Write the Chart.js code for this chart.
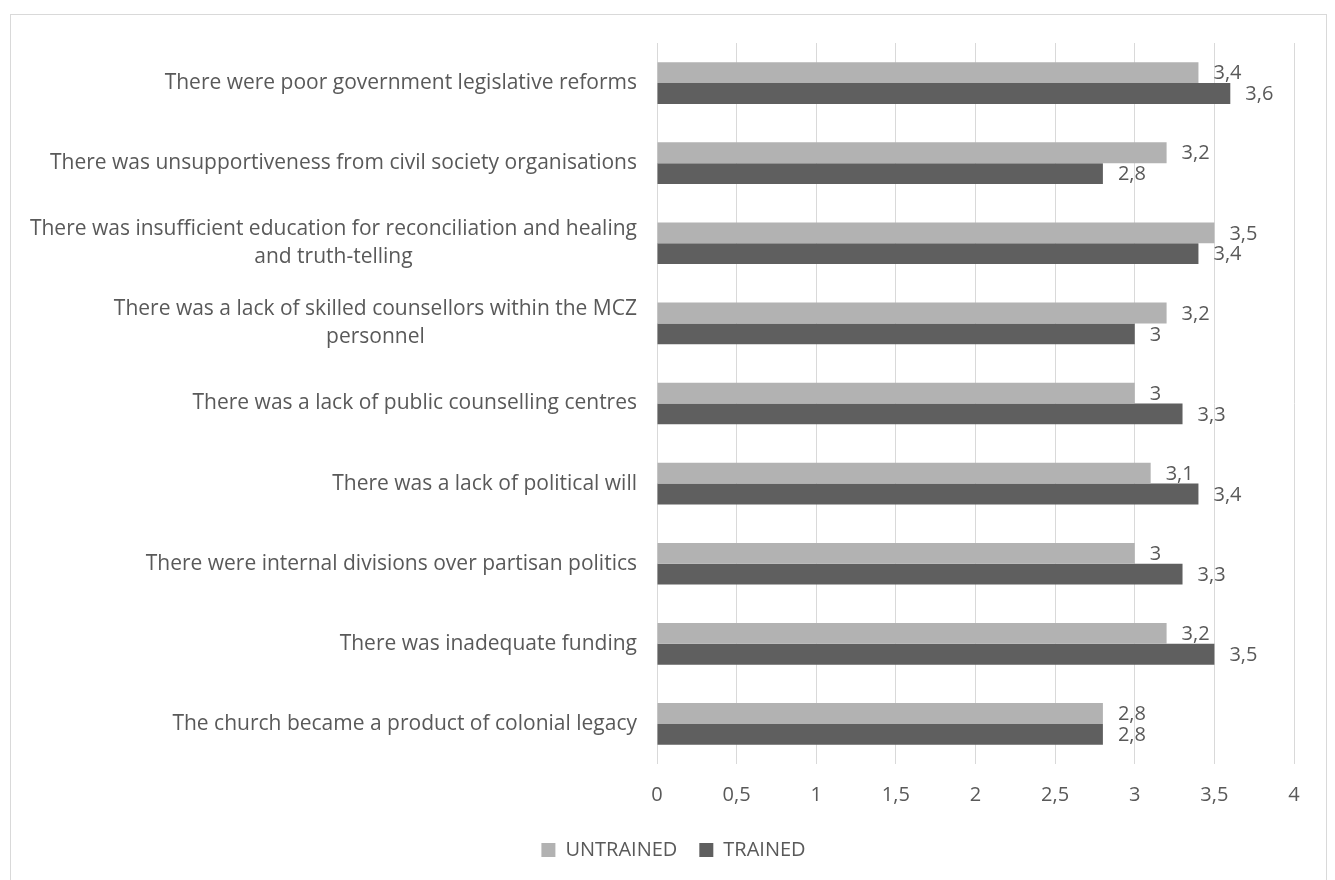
<!DOCTYPE html>
<html>
<head>
<meta charset="utf-8">
<script src="https://cdn.jsdelivr.net/npm/chart.js@4"></script>
<style>
    html, body { margin: 0; padding: 0; background: #ffffff; }
    #frame {
        position: absolute;
        left: 10px;
        top: 14px;
        width: 1315px;
        height: 880px;
        border: 1px solid #d9d9d9;
        background: #ffffff;
    }
    #frame canvas { display: block; }
</style>
</head>
<body>
<div id="frame"><canvas id="main_chart" width="1315" height="865"></canvas></div>
<script>
const categories = [
    ['There were poor government legislative reforms'],
    ['There was unsupportiveness from civil society organisations'],
    ['There was insufficient education for reconciliation and healing', 'and truth-telling'],
    ['There was a lack of skilled counsellors within the MCZ', 'personnel'],
    ['There was a lack of public counselling centres'],
    ['There was a lack of political will'],
    ['There were internal divisions over partisan politics'],
    ['There was inadequate funding'],
    ['The church became a product of colonial legacy']
];
const untrained = [3.4, 3.2, 3.5, 3.2, 3, 3.1, 3, 3.2, 2.8];
const trained = [3.6, 2.8, 3.4, 3, 3.3, 3.4, 3.3, 3.5, 2.8];
const x_ticks = [0, 0.5, 1, 1.5, 2, 2.5, 3, 3.5, 4];

const text_colour = '#595959';
const font_family = '"Open Sans", sans-serif';

function comma(v) {
    return String(v).replace('.', ',');
}

// value labels at the end of each bar
const value_labels = {
    id: 'value_labels',
    afterDatasetsDraw(chart) {
        const ctx = chart.ctx;
        ctx.save();
        ctx.font = '20px ' + font_family;
        ctx.fillStyle = text_colour;
        ctx.textAlign = 'left';
        ctx.textBaseline = 'middle';
        chart.data.datasets.forEach((ds, i) => {
            chart.getDatasetMeta(i).data.forEach((bar, j) => {
                ctx.fillText(comma(ds.data[j]), bar.x + 15, bar.y + 1);
            });
        });
        ctx.restore();
    }
};

// category labels, lines centred on each other and right-aligned as a block
const category_labels = {
    id: 'category_labels',
    afterDraw(chart) {
        const ctx = chart.ctx;
        const scale = chart.scales.y;
        const right = chart.chartArea.left - 20;
        const line_height = 28;
        ctx.save();
        ctx.font = '21px ' + font_family;
        ctx.fillStyle = text_colour;
        ctx.textAlign = 'center';
        ctx.textBaseline = 'middle';
        categories.forEach((lines, i) => {
            const w = Math.max(...lines.map(l => ctx.measureText(l).width));
            const cx = right - w / 2;
            const cy = scale.getPixelForValue(i);
            const top = cy - (lines.length - 1) * line_height / 2;
            lines.forEach((l, k) => ctx.fillText(l, cx, top + k * line_height));
        });
        ctx.restore();
    }
};

// centre the legend on the whole frame rather than the padded area
const legend_shift = {
    id: 'legend_shift',
    afterLayout(chart) {
        chart.legend.left += 21;
        chart.legend.right += 21;
    }
};

new Chart(document.getElementById('main_chart'), {
    type: 'bar',
    data: {
        labels: categories.map(l => l.join(' ')),
        datasets: [
            {
                label: 'UNTRAINED',
                data: untrained,
                backgroundColor: '#b2b2b2',
                borderWidth: 0
            }, {
                label: 'TRAINED',
                data: trained,
                backgroundColor: '#5f5f5f',
                borderWidth: 0
            }
        ]
    },
    plugins: [value_labels, category_labels, legend_shift],
    options: {
        indexAxis: 'y',
        responsive: false,
        animation: false,
        layout: {
            padding: { top: 28, right: 32, bottom: 10, left: 0 }
        },
        datasets: {
            bar: {
                categoryPercentage: 0.52,
                barPercentage: 1.0
            }
        },
        scales: {
            x: {
                min: 0,
                max: 4,
                afterBuildTicks: (scale) => {
                    scale.ticks = x_ticks.map(v => ({ value: v }));
                },
                afterFit: (scale) => { scale.height -= 8; },
                grid: {
                    color: '#d9d9d9',
                    lineWidth: 1,
                    drawTicks: false
                },
                border: { display: false },
                ticks: {
                    padding: 19,
                    color: text_colour,
                    font: { family: font_family, size: 20 },
                    callback: (v) => comma(v)
                }
            },
            y: {
                grid: { display: false, drawTicks: false },
                border: { display: false },
                afterFit: (scale) => { scale.width = 646; },
                ticks: { display: false }
            }
        },
        plugins: {
            legend: {
                position: 'bottom',
                labels: {
                    boxWidth: 14,
                    boxHeight: 14,
                    padding: 22,
                    color: text_colour,
                    font: { family: font_family, size: 20 }
                }
            },
            tooltip: { enabled: false }
        }
    }
});
</script>
</body>
</html>
